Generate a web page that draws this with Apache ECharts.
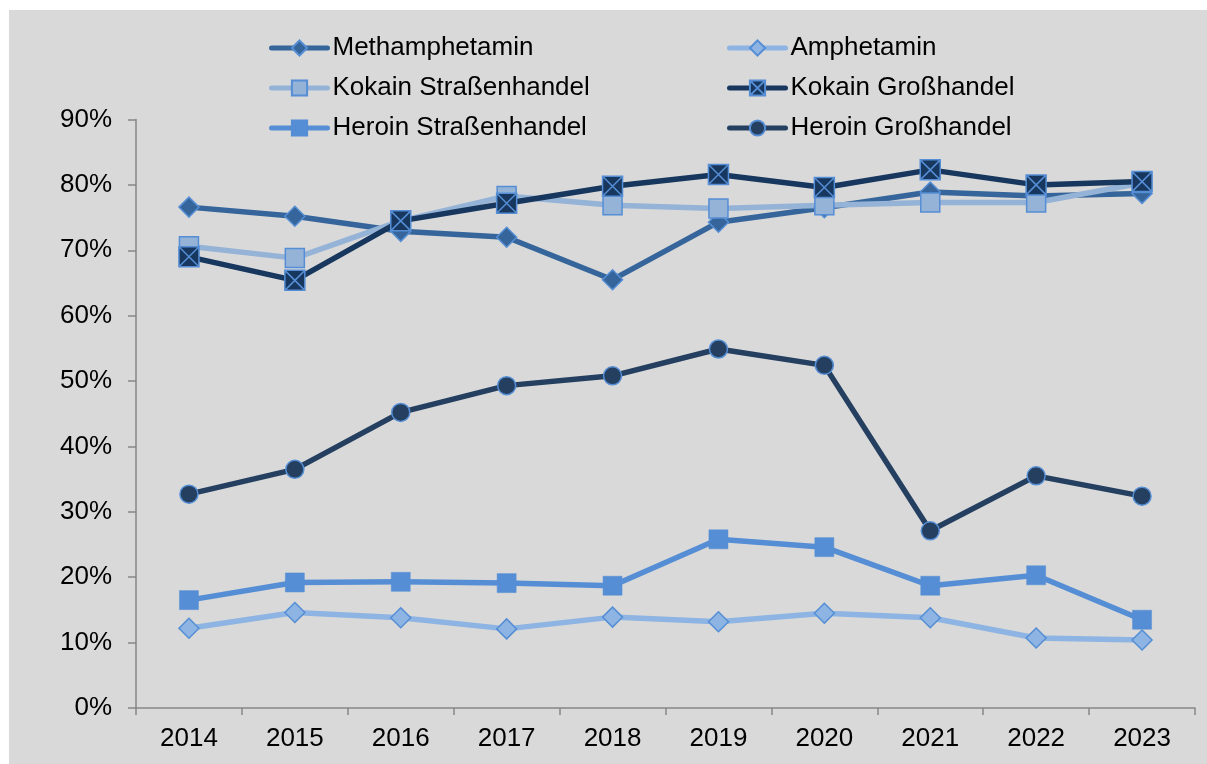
<!DOCTYPE html>
<html>
<head>
<meta charset="utf-8">
<script src="https://cdn.jsdelivr.net/npm/echarts@6/dist/echarts.min.js"></script>
<style>
html,body{margin:0;padding:0;background:#ffffff;width:1207px;height:764px;overflow:hidden;}
#chart{position:absolute;left:9px;top:10px;width:1198px;height:754px;background:#d9d9d9;}
</style>
</head>
<body>
<div id="chart"></div>
<script>
const years = ['2014','2015','2016','2017','2018','2019','2020','2021','2022','2023'];
const yTicks = [0,10,20,30,40,50,60,70,80,90];
const methamphetamin = [76.6, 75.2, 72.9, 72.0, 65.5, 74.3, 76.5, 78.9, 78.3, 78.7];
const amphetamin = [12.2, 14.6, 13.8, 12.1, 13.9, 13.2, 14.5, 13.8, 10.7, 10.4];
const kokainStrasse = [70.6, 68.8, 74.5, 78.3, 76.9, 76.4, 76.9, 77.3, 77.3, 80.3];
const kokainGross = [69.0, 65.4, 74.5, 77.2, 79.8, 81.6, 79.6, 82.3, 80.0, 80.5];
const heroinStrasse = [16.5, 19.2, 19.3, 19.1, 18.7, 25.8, 24.6, 18.7, 20.3, 13.5];
const heroinGross = [32.7, 36.5, 45.2, 49.3, 50.8, 54.9, 52.4, 27.1, 35.5, 32.4];

const names = ['Methamphetamin','Amphetamin','Kokain Straßenhandel','Kokain Großhandel','Heroin Straßenhandel','Heroin Großhandel'];
const FONT = '"Liberation Sans", Arial, sans-serif';
const edge = '#558ED5';

function mk(name, data, lineColor, symbol, size, fill, bw) {
  return {
    name: name, type: 'line', data: data,
    symbol: symbol, symbolSize: size,
    lineStyle: {color: lineColor, width: 5.5, cap: 'round', join: 'round'},
    itemStyle: {color: fill, borderColor: edge, borderWidth: bw},
    emphasis: {disabled: true},
    animation: false
  };
}
const xPath = 'path://M0,0L20,0L20,20L0,20Z M0,0L20,20 M20,0L0,20';

const legendBase = {
  orient: 'vertical', top: 20,
  itemWidth: 56, itemHeight: 19, itemGap: 14,
  lineStyle: {width: 5, cap: 'round'},
  textStyle: {fontFamily: FONT, fontSize: 26, color: '#000', lineHeight: 26}
};

const chart = echarts.init(document.getElementById('chart'), null, {renderer: 'canvas'});
chart.setOption({
  backgroundColor: '#d9d9d9',
  animation: false,
  textStyle: {fontFamily: FONT},
  grid: {left: 127, right: 12, top: 109.5, bottom: 56},
  legend: [
    Object.assign({}, legendBase, {left: 255, data: [names[0], names[2], names[4]]}),
    Object.assign({}, legendBase, {left: 713, data: [names[1], names[3], names[5]]})
  ],
  xAxis: {
    type: 'category', data: years, boundaryGap: true,
    axisLine: {lineStyle: {color: '#868686', width: 1.5}},
    axisTick: {show: true, length: 7, lineStyle: {color: '#868686', width: 1.5}},
    axisLabel: {fontSize: 26, color: '#000', fontFamily: FONT, margin: 18},
    splitLine: {show: false}
  },
  yAxis: {
    type: 'value', min: yTicks[0], max: yTicks[yTicks.length-1], interval: 10,
    axisLine: {show: true, lineStyle: {color: '#868686', width: 1.5}},
    axisTick: {show: true, length: 8, lineStyle: {color: '#868686', width: 1.5}},
    axisLabel: {fontSize: 26, color: '#000', fontFamily: FONT, margin: 24, formatter: '{value}%'},
    splitLine: {show: false}
  },
  series: [
    mk(names[0], methamphetamin, '#35659A', 'diamond', 20, '#35659A', 1.5),
    mk(names[1], amphetamin, '#8DB4E2', 'diamond', 20, '#8DB4E2', 1.5),
    mk(names[2], kokainStrasse, '#95B3D7', 'rect', 19, '#95B3D7', 1.5),
    mk(names[3], kokainGross, '#17375E', xPath, 20, '#17375E', 1.5),
    mk(names[4], heroinStrasse, '#558ED5', 'rect', 19, '#558ED5', 0.5),
    mk(names[5], heroinGross, '#243F60', 'circle', 18, '#243F60', 1.5)
  ]
});
</script>
</body>
</html>
